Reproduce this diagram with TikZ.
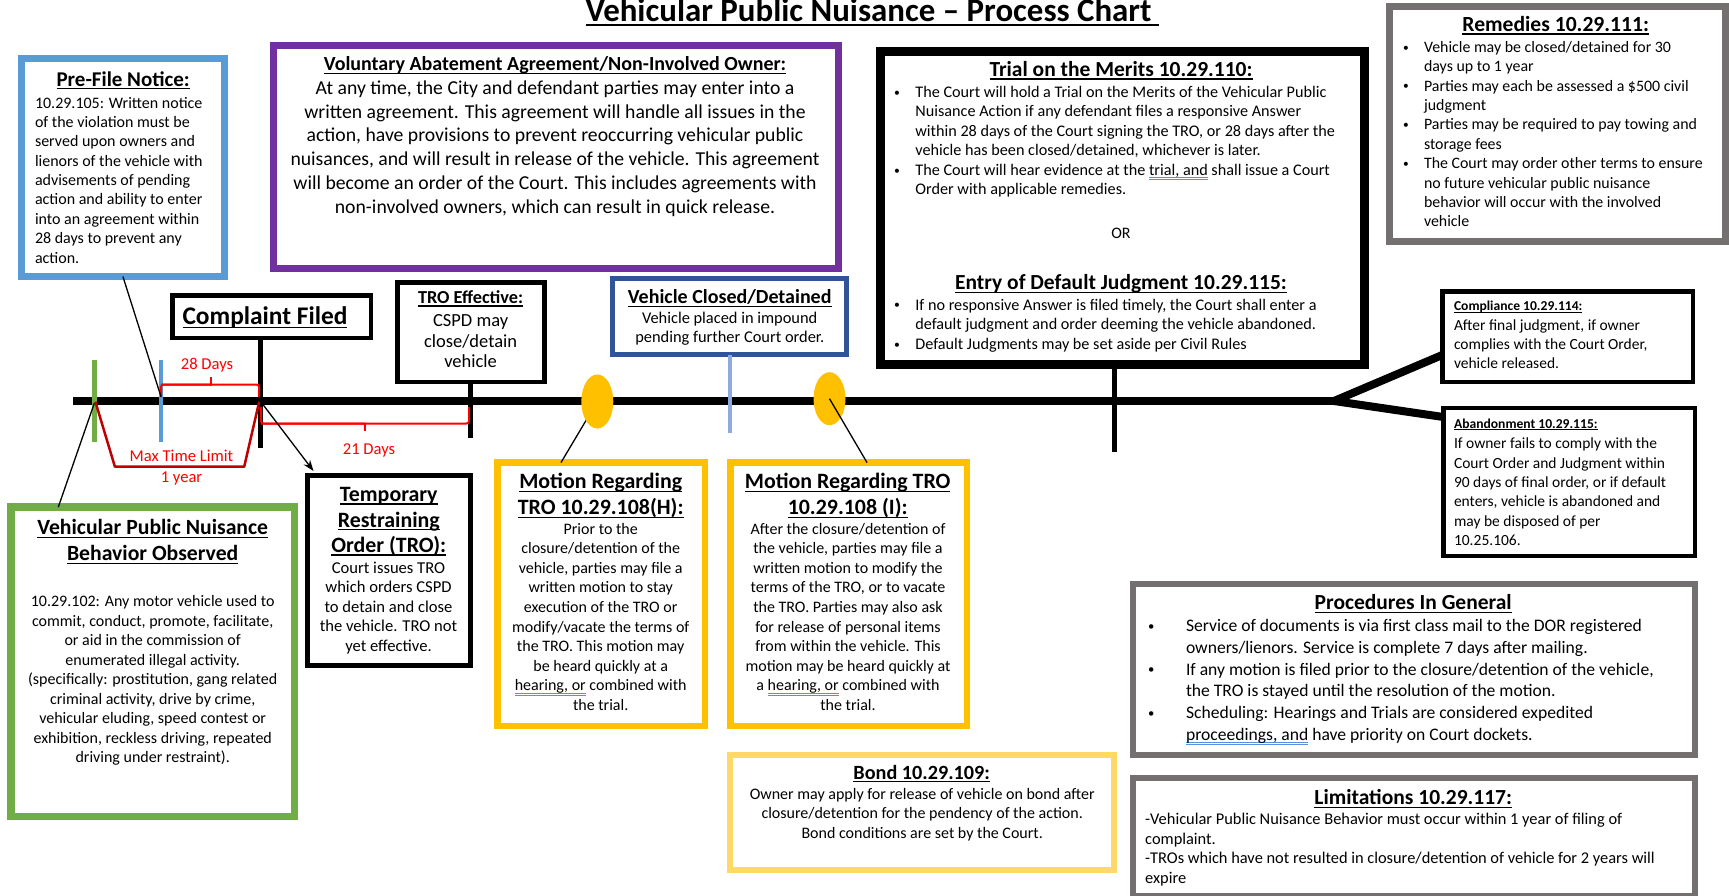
\documentclass[tikz,border=0pt]{standalone}
\usepackage{fontspec}
\usepackage{graphicx}
\setmainfont{Carlito}
\usetikzlibrary{shapes.geometric,arrows.meta}
\definecolor{pfblue}{HTML}{5B9BD5}
\definecolor{purp}{HTML}{7030A0}
\definecolor{rgray}{HTML}{757070}
\definecolor{dblue}{HTML}{2F5597}
\definecolor{lblue}{HTML}{8FAADC}
\definecolor{vgreen}{HTML}{70AD47}
\definecolor{gold}{HTML}{FFC000}
\definecolor{lgold}{HTML}{FFD966}
\definecolor{dred}{HTML}{C00000}
\definecolor{gblue}{HTML}{5B8FDB}
\newcommand\fsz[2]{\fontsize{#1}{#2}\selectfont}
\newcommand\firstl{\rule{0pt}{0.8em}}
\newcommand\myul[1]{\setbox0\hbox{#1}\rlap{\rule[-0.15em]{\wd0}{0.06em}}\box0\relax}
\newcommand\gram[1]{\setbox2\hbox{#1}\rlap{\color{gblue}\rule[-0.17em]{\wd2}{0.055em}}\rlap{\color{gblue}\rule[-0.29em]{\wd2}{0.055em}}\box2\relax}
\newcommand\bul[1]{\makebox[#1pt][l]{\raisebox{0.08em}{\scalebox{0.72}{\textbullet}}}}
\newcommand\bind[1]{\hspace*{#1pt}}
\begin{document}
\begin{tikzpicture}[x=1pt,y=-1pt,
  tx/.style={inner sep=0pt,outer sep=0pt},
  frame/.style={draw,fill=white,inner sep=0pt,outer sep=0pt},
  tl/.style={line width=8pt,line join=miter},
  conn/.style={line width=1.3pt},
  br/.style={red,line width=2pt,rounded corners=2.5pt},
  lab/.style={tx,red,font={\fsz{16.6}{19}}},
  tickln/.style={line width=5pt}]
\useasboundingbox (0,0) rectangle (1729,896);
\fill[white] (0,0) rectangle (1729,896);

% ---------- title
\node[tx,anchor=base west,font={\fsz{32.9}{38}\bfseries}] (title) at (585.5,21.5) {\myul{Vehicular Public Nuisance – Process Chart\ }};

% ---------- coordinates
\coordinate (tls) at (73,401);
\coordinate (fork) at (1334,401);
\coordinate (cy) at (0,355);
\coordinate (ay) at (0,417);
\coordinate (gtt) at (94.3,360);
\coordinate (gtb) at (94.3,441.7);
\coordinate (gmid) at (94.3,403.3);
\coordinate (btt) at (161,360);
\coordinate (btb) at (161,441.7);
\coordinate (bmid) at (161,396.7);
\coordinate (cft) at (260.8,448.3);
\coordinate (cfm) at (260.8,401.7);
\coordinate (tet) at (470.6,438.3);
\coordinate (vct) at (730,433.3);
\coordinate (trt) at (1114,451.7);
\coordinate (troin) at (313.5,471);
\coordinate (vgc) at (58.3,0);
\coordinate (l1) at (561,0);
\coordinate (l2) at (867,0);

% ---------- boxes
\node[frame,draw=pfblue,line width=7pt,minimum width=202.2pt,minimum height=218pt] (pf) at (122.9,167.5) {};
\node[frame,draw=purp,line width=7pt,minimum width=565pt,minimum height=223pt] (va) at (556,157) {};
\node[frame,draw=black,line width=9pt,minimum width=484.5pt,minimum height=313.3pt] (tr) at (1122.25,207.85) {};
\node[frame,draw=rgray,line width=7pt,minimum width=336.5pt,minimum height=235.3pt] (rm) at (1557.25,123.85) {};
\node[frame,draw=black,line width=4.5pt,minimum width=198.1pt,minimum height=42.2pt] (cf) at (271.7,316.65) {};
\node[frame,draw=black,line width=4.5pt,minimum width=147.1pt,minimum height=99.5pt] (te) at (470.8,332) {};
\node[frame,draw=dblue,line width=5pt,minimum width=233.6pt,minimum height=76.3pt] (vc) at (729.7,316.65) {};
\node[frame,draw=black,line width=4.5pt,minimum width=250.5pt,minimum height=90.5pt] (co) at (1567.5,336.5) {};
\node[frame,draw=black,line width=4.5pt,minimum width=251.5pt,minimum height=147.8pt] (ab) at (1569,481.85) {};
\node[frame,draw=black,line width=5pt,minimum width=162.7pt,minimum height=190pt] (tro) at (388.85,570.8) {};
\node[frame,draw=vgreen,line width=7.5pt,minimum width=283.5pt,minimum height=309.2pt] (vg) at (152.8,661.65) {};
\node[frame,draw=gold,line width=6.5pt,minimum width=207.5pt,minimum height=263.5pt] (mh) at (601.3,594.3) {};
\node[frame,draw=gold,line width=6.5pt,minimum width=236.2pt,minimum height=263.5pt] (mi) at (848.65,594.3) {};
\node[frame,draw=lgold,line width=5.3pt,minimum width=384.1pt,minimum height=115.1pt] (bd) at (922,812.5) {};
\node[frame,draw=rgray,line width=6pt,minimum width=561.8pt,minimum height=170.7pt] (pg) at (1413.6,669.35) {};
\node[frame,draw=rgray,line width=6pt,minimum width=561.8pt,minimum height=118pt] (lm) at (1413.6,837) {};

% ---------- timeline
\draw[tl] (tls) -- (fork);
\draw[tl] (co.west |- cy) -- (fork) -- (ab.west |- ay);
\draw[vgreen,line width=4.5pt] (gtt) -- (gtb);
\draw[pfblue,line width=4.5pt] (btt) -- (btb);
\draw[tickln] (cf.south -| cft) -- (cft);
\draw[tickln] (te.south -| tet) -- (tet);
\draw[lblue,line width=4pt] (vc.south -| vct) -- (vct);
\draw[tickln] (tr.south -| trt) -- (trt);

% ---------- brackets
\draw[br] (161,397) |- (211,384.5);
\draw[br] (161,384.5) -| (259,397);
\draw[red,line width=2pt] (211,385.5) -- (211,377);
\draw[br] (261,407) |- (365,423.5);
\draw[br] (261,423.5) -| (469,407);
\draw[red,line width=2pt] (365,422.5) -- (365,431);
\draw[dred,line width=2.5pt,line join=round] (95.4,401.7) -- (114.9,466.7) -- (244.2,466.7) -- (259.2,401.7);
\node[lab,anchor=base] (l28) at (207,369.1) {28 Days};
\node[lab,anchor=base] (l21) at (369,454.8) {21 Days};
\node[lab,anchor=base] (lmax) at (181.5,461.5) {Max Time Limit};
\node[lab,anchor=base] (l1y) at (181.5,482.1) {1 year};

% ---------- connectors
\draw[conn] (pf.south) -- (bmid);
\draw[conn] (gmid) -- (vg.north -| vgc);
\draw[conn,-{Stealth[length=11pt,width=8pt]}] (cfm) -- (troin);
\draw[conn] (597.3,401.5) coordinate (e1c) -- (mh.north -| l1);
\node[ellipse,fill=gold,minimum width=32pt,minimum height=54pt,inner sep=0pt] (e1) at (e1c) {};
\node[ellipse,fill=gold,minimum width=32pt,minimum height=53pt,inner sep=0pt] (e2) at (829.5,398.7) {};
\draw[conn] (e2.center) -- (mi.north -| l2);

% ---------- Pre-File
\node[tx,anchor=base,font={\fsz{21}{25}\bfseries}] (pft) at (123.2,86.3) {\myul{Pre-File Notice:}};
\node[tx,anchor=north west,align=left,font={\fsz{16}{19.4}}] (pfb) at (35,95.2) {\firstl 10.29.105: Written notice\\of the violation must be\\served upon owners and\\lienors of the vehicle with\\advisements of pending\\action and ability to enter\\into an agreement within\\28 days to prevent any\\action.};

% ---------- Voluntary abatement
\node[tx,anchor=base,font={\fsz{20}{24}\bfseries}] (vat) at (555,71) {\myul{Voluntary Abatement Agreement/Non-Involved Owner:}};
\node[tx,anchor=north,align=center,font={\fsz{19.7}{23.8}}] (vab) at (555,78.6) {\firstl At any time, the City and defendant parties may enter into a\\written agreement. This agreement will handle all issues in the\\action, have provisions to prevent reoccurring vehicular public\\nuisances, and will result in release of the vehicle. This agreement\\will become an order of the Court. This includes agreements with\\non-involved owners, which can result in quick release.};

% ---------- Trial
\node[tx,anchor=base,font={\fsz{21.5}{25}\bfseries}] (trt1) at (1121,76.5) {\myul{Trial on the Merits 10.29.110:}};
\node[tx,anchor=north west,align=left,font={\fsz{16.2}{19.5}}] (trb1) at (894,84.5) {\firstl\bul{21.4}The Court will hold a Trial on the Merits of the Vehicular Public\\\bind{21.4}Nuisance Action if any defendant files a responsive Answer\\\bind{21.4}within 28 days of the Court signing the TRO, or 28 days after the\\\bind{21.4}vehicle has been closed/detained, whichever is later.\\\bul{21.4}The Court will hear evidence at the \gram{trial, and} shall issue a Court\\\bind{21.4}Order with applicable remedies.};
\node[tx,anchor=base,font={\fsz{16}{18}}] (tror) at (1121,238.2) {OR};
\node[tx,anchor=base,font={\fsz{21.5}{25}\bfseries}] (trt2) at (1121,289.8) {\myul{Entry of Default Judgment 10.29.115:}};
\node[tx,anchor=north west,align=left,font={\fsz{16.2}{19.8}}] (trb2) at (894,297.2) {\firstl\bul{21.4}If no responsive Answer is filed timely, the Court shall enter a\\\bind{21.4}default judgment and order deeming the vehicle abandoned.\\\bul{21.4}Default Judgments may be set aside per Civil Rules};

% ---------- Remedies
\node[tx,anchor=base,font={\fsz{21.6}{25}\bfseries}] (rmt) at (1555.7,31.5) {\myul{Remedies 10.29.111:}};
\node[tx,anchor=north west,align=left,font={\fsz{15.9}{19.4}}] (rmb) at (1403,39.6) {\firstl\bul{21}Vehicle may be closed/detained for 30\\\bind{21}days up to 1 year\\\bul{21}Parties may each be assessed a \$500 civil\\\bind{21}judgment\\\bul{21}Parties may be required to pay towing and\\\bind{21}storage fees\\\bul{21}The Court may order other terms to ensure\\\bind{21}no future vehicular public nuisance\\\bind{21}behavior will occur with the involved\\\bind{21}vehicle};

% ---------- Complaint / TRO effective / Vehicle closed
\node[tx,anchor=base,font={\fsz{25.4}{29}\bfseries}] (cft1) at (265,324.3) {\myul{Complaint Filed}};
\node[tx,anchor=base,font={\fsz{18.3}{22}\bfseries}] (tet1) at (470.6,303.8) {\myul{TRO Effective:}};
\node[tx,anchor=north,align=center,font={\fsz{18.5}{20.8}}] (teb) at (470.6,311.5) {\firstl CSPD may\\close/detain\\vehicle};
\node[tx,anchor=base,font={\fsz{20}{23}\bfseries}] (vct1) at (729.7,303.7) {\myul{Vehicle Closed/Detained}};
\node[tx,anchor=north,align=center,font={\fsz{16.4}{19.3}}] (vcb) at (729.7,310) {\firstl Vehicle placed in impound\\pending further Court order.};

% ---------- Compliance / Abandonment
\node[tx,anchor=base west,font={\fsz{13.6}{17}\bfseries}] (cot) at (1454,310.5) {\myul{Compliance 10.29.114:}};
\node[tx,anchor=north west,align=left,font={\fsz{15.5}{19}}] (cob) at (1454,318.2) {\firstl After final judgment, if owner\\complies with the Court Order,\\vehicle released.};
\node[tx,anchor=base west,font={\fsz{13.6}{17}\bfseries}] (abt) at (1454,428) {\myul{Abandonment 10.29.115:}};
\node[tx,anchor=north west,align=left,font={\fsz{15.5}{19.3}}] (abb) at (1454,436.5) {\firstl If owner fails to comply with the\\Court Order and Judgment within\\90 days of final order, or if default\\enters, vehicle is abandoned and\\may be disposed of per\\10.25.106.};

% ---------- TRO
\node[tx,anchor=north,align=center,font={\fsz{21.9}{25.5}\bfseries}] (trot) at (388.8,484) {\firstl\myul{Temporary}\\\myul{Restraining}\\\myul{Order (TRO):}};
\node[tx,anchor=north,align=center,font={\fsz{16.6}{19.5}}] (trob) at (388.5,560.2) {\firstl Court issues TRO\\which orders CSPD\\to detain and close\\the vehicle. TRO not\\yet effective.};

% ---------- Green
\node[tx,anchor=north,align=center,font={\fsz{21.7}{26}\bfseries}] (vgt) at (152.7,517.5) {\firstl\myul{Vehicular Public Nuisance}\\\myul{Behavior Observed}};
\node[tx,anchor=north,align=center,font={\fsz{16}{19.5}}] (vgb) at (152.7,593.9) {\firstl 10.29.102: Any motor vehicle used to\\commit, conduct, promote, facilitate,\\or aid in the commission of\\enumerated illegal activity.\\(specifically: prostitution, gang related\\criminal activity, drive by crime,\\vehicular eluding, speed contest or\\exhibition, reckless driving, repeated\\driving under restraint).};

% ---------- Motions
\node[tx,anchor=north,align=center,font={\fsz{21.9}{26}\bfseries}] (mht) at (600.7,471.3) {\firstl\myul{Motion Regarding}\\\myul{TRO 10.29.108(H):}};
\node[tx,anchor=north,align=center,font={\fsz{16}{19.6}}] (mhb) at (600.7,521.2) {\firstl Prior to the\\closure/detention of the\\vehicle, parties may file a\\written motion to stay\\execution of the TRO or\\modify/vacate the terms of\\the TRO. This motion may\\be heard quickly at a\\\gram{hearing, or} combined with\\the trial.};
\node[tx,anchor=north,align=center,font={\fsz{21.9}{26}\bfseries}] (mit) at (847.7,471.3) {\firstl\myul{Motion Regarding TRO}\\\myul{10.29.108 (I):}};
\node[tx,anchor=north,align=center,font={\fsz{16}{19.6}}] (mib) at (848,521.2) {\firstl After the closure/detention of\\the vehicle, parties may file a\\written motion to modify the\\terms of the TRO, or to vacate\\the TRO. Parties may also ask\\for release of personal items\\from within the vehicle. This\\motion may be heard quickly at\\a \gram{hearing, or} combined with\\the trial.};

% ---------- Bond
\node[tx,anchor=base,font={\fsz{20.2}{23}\bfseries}] (bdt) at (921.7,779.4) {\myul{Bond 10.29.109:}};
\node[tx,anchor=north,align=center,font={\fsz{16}{19.5}}] (bdb) at (922.2,786.2) {\firstl Owner may apply for release of vehicle on bond after\\closure/detention for the pendency of the action.\\Bond conditions are set by the Court.};

% ---------- Procedures
\node[tx,anchor=base,font={\fsz{21.5}{25}\bfseries}] (pgt) at (1413.2,609.8) {\myul{Procedures In General}};
\node[tx,anchor=north west,align=left,font={\fsz{17.6}{21.7}}] (pgb) at (1148,617.6) {\firstl\bul{38}Service of documents is via first class mail to the DOR registered\\\bind{38}owners/lienors. Service is complete 7 days after mailing.\\\bul{38}If any motion is filed prior to the closure/detention of the vehicle,\\\bind{38}the TRO is stayed until the resolution of the motion.\\\bul{38}Scheduling: Hearings and Trials are considered expedited\\\bind{38}\gram{proceedings, and} have priority on Court dockets.};

% ---------- Limitations
\node[tx,anchor=base,font={\fsz{21.5}{25}\bfseries}] (lmt) at (1413.2,804.8) {\myul{Limitations 10.29.117:}};
\node[tx,anchor=north west,align=left,font={\fsz{16.4}{19.5}}] (lmb) at (1145.2,811.7) {\firstl -Vehicular Public Nuisance Behavior must occur within 1 year of filing of\\complaint.\\-TROs which have not resulted in closure/detention of vehicle for 2 years will\\expire};
\end{tikzpicture}
\end{document}
